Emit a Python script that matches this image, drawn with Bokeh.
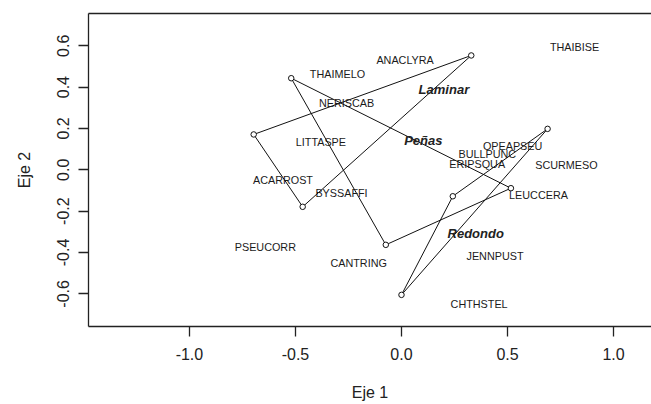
from bokeh.plotting import figure
from bokeh.models import Range1d, LinearAxis, FixedTicker, ColumnDataSource
from bokeh.core.properties import value
from bokeh.embed import file_html
from bokeh.resources import INLINE

# ---- data ----
x_ticks = [-1.0, -0.5, 0.0, 0.5, 1.0]
x_tick_labels = ["-1.0", "-0.5", "0.0", "0.5", "1.0"]
y_ticks = [-0.6, -0.4, -0.2, 0.0, 0.2, 0.4, 0.6]
y_tick_labels = ["-0.6", "-0.4", "-0.2", "0.0", "0.2", "0.4", "0.6"]

# site hulls (three per habitat)
laminar_x = [-0.697, 0.329, -0.466]
laminar_y = [0.171, 0.553, -0.179]
penas_x = [-0.520, 0.516, -0.074]
penas_y = [0.443, -0.089, -0.363]
redondo_x = [0.242, 0.689, 0.000]
redondo_y = [-0.128, 0.198, -0.605]

# habitat labels
group_names = ["Laminar", "Peñas", "Redondo"]
group_x = [0.200, 0.103, 0.350]
group_y = [0.387, 0.142, -0.310]

# species labels
species = ["THAIMELO", "ANACLYRA", "THAIBISE", "NERISCAB", "LITTASPE",
           "OPEAPSEU", "BULLPUNC", "ERIPSQUA", "SCURMESO", "ACARROST",
           "BYSSAFFI", "LEUCCERA", "PSEUCORR", "JENNPUST", "CANTRING",
           "CHTHSTEL"]
species_x = [-0.302, 0.017, 0.816, -0.259, -0.380,
             0.524, 0.405, 0.357, 0.778, -0.559,
             -0.283, 0.646, -0.642, 0.441, -0.202,
             0.366]
species_y = [0.461, 0.532, 0.595, 0.324, 0.135,
             0.114, 0.076, 0.029, 0.022, -0.047,
             -0.110, -0.124, -0.374, -0.418, -0.450,
             -0.648]

# ---- figure ----
p = figure(width=651, height=404, output_backend="svg", toolbar_location=None,
           x_range=Range1d(-1.476, 1.179), y_range=Range1d(-0.758, 0.756),
           x_axis_location=None, y_axis_location=None,
           min_border_left=88, min_border_right=0, min_border_top=13,
           min_border_bottom=78)
p.outline_line_color = None
p.xgrid.visible = False
p.ygrid.visible = False
p.background_fill_color = "white"

FONT = "Liberation Sans"
AX_COLOR = "#222222"

xaxis = LinearAxis(ticker=FixedTicker(ticks=x_ticks),
                   major_label_overrides={t: l for t, l in zip(x_ticks, x_tick_labels)},
                   axis_label="Eje 1")
yaxis = LinearAxis(ticker=FixedTicker(ticks=y_ticks),
                   major_label_overrides={t: l for t, l in zip(y_ticks, y_tick_labels)},
                   axis_label="Eje 2", major_label_orientation="vertical")
for ax in (xaxis, yaxis):
    ax.axis_line_color = AX_COLOR
    ax.axis_line_width = 1.3
    ax.major_tick_line_color = AX_COLOR
    ax.major_tick_line_width = 1.3
    ax.major_tick_out = 10
    ax.major_tick_in = 0
    ax.minor_tick_line_color = None
    ax.major_label_text_font = FONT
    ax.major_label_text_font_size = "16px"
    ax.major_label_text_color = "#222222"
    ax.axis_label_text_font = FONT
    ax.axis_label_text_font_size = "16px"
    ax.axis_label_text_font_style = "normal"
    ax.axis_label_text_color = "#222222"
xaxis.major_label_standoff = 11
xaxis.axis_label_standoff = 21
yaxis.major_label_standoff = 9
yaxis.axis_label_standoff = 22

top = LinearAxis(ticker=FixedTicker(ticks=[]), axis_line_color=AX_COLOR,
                 axis_line_width=1.3, major_tick_out=0, major_tick_in=0,
                 minor_tick_out=0, minor_tick_in=0, major_label_standoff=0,
                 major_label_text_font_size="0px")

p.add_layout(xaxis, "below")
p.add_layout(yaxis, "left")
p.add_layout(top, "above")

# hulls
p.patches(xs=[laminar_x, penas_x, redondo_x], ys=[laminar_y, penas_y, redondo_y],
          fill_color=None, line_color="#111111", line_width=1)
all_x = laminar_x + penas_x + redondo_x
all_y = laminar_y + penas_y + redondo_y
p.scatter(all_x, all_y, marker="circle", size=5.5, fill_color="white",
          line_color="#111111", line_width=1)

# species labels
sp = ColumnDataSource(dict(x=species_x, y=species_y, t=species))
p.text("x", "y", text="t", source=sp, text_align="center",
       text_baseline="middle", text_font=value(FONT),
       text_font_size="10.8px", text_color="#1a1a1a")

# group labels
gp = ColumnDataSource(dict(x=group_x, y=group_y, t=group_names))
p.text("x", "y", text="t", source=gp, text_align="center",
       text_baseline="middle", text_font=value(FONT),
       text_font_size="13px", text_font_style="bold italic",
       text_color="#222222")

open("out.html", "w").write(file_html(p, INLINE))
